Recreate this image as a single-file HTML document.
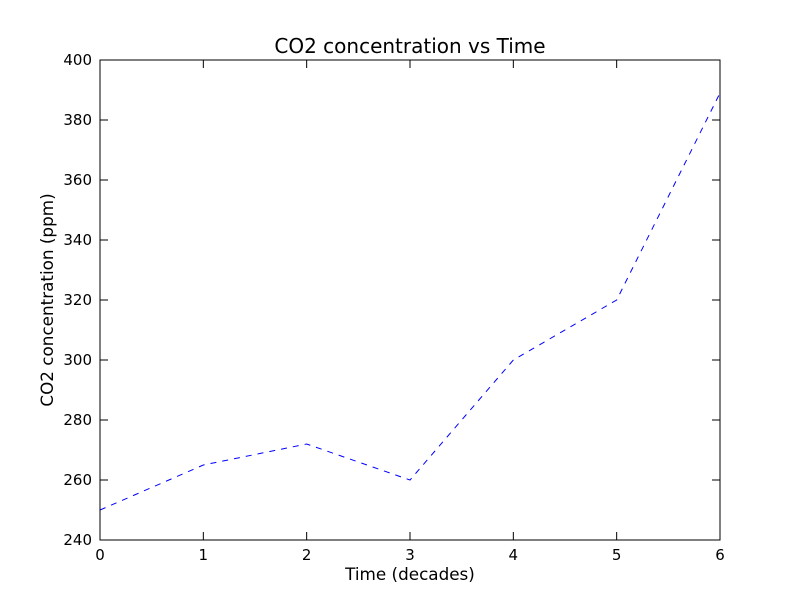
<!DOCTYPE html>
<html>
<head>
<meta charset="utf-8">
<style>
  html,body{margin:0;padding:0;background:#fff;}
  svg{display:block;font-family:"DejaVu Sans","Liberation Sans",sans-serif;}
</style>
</head>
<body>
<svg id="chart" width="800" height="600" viewBox="0 0 800 600">
  <rect x="0" y="0" width="800" height="600" fill="#fff"/>
  <text x="410" y="53" text-anchor="middle" font-size="20">CO2 concentration vs Time</text>
  <text x="410" y="580" text-anchor="middle" font-size="16.8">Time (decades)</text>
  <text x="53" y="300" text-anchor="middle" font-size="16.8" transform="rotate(-90 53 300)">CO2 concentration (ppm)</text>
  <g id="ticks"></g>
  <path id="series" fill="none" stroke="#0000ff" stroke-width="1" stroke-dasharray="6,6"/>
  <rect x="100" y="60" width="620" height="480" fill="none" stroke="#000" stroke-width="1"/>
</svg>
<script>
const categories = [0, 1, 2, 3, 4, 5, 6];
const co2Values = [250, 265, 272, 260, 300, 320, 389];
const xTickLabels = ["0", "1", "2", "3", "4", "5", "6"];
const yTickValues = [240, 260, 280, 300, 320, 340, 360, 380, 400];

const L = 100, R = 720, T = 60, B = 540;
const xMin = 0, xMax = 6, yMin = 240, yMax = 400;
function xScale(v){ return L + (v - xMin) / (xMax - xMin) * (R - L); }
function yScale(v){ return B - (v - yMin) / (yMax - yMin) * (B - T); }

const NS = "http://www.w3.org/2000/svg";
const g = document.getElementById('ticks');
function line(x1,y1,x2,y2,name){
  const l = document.createElementNS(NS,'line');
  l.setAttribute('x1',x1); l.setAttribute('y1',y1);
  l.setAttribute('x2',x2); l.setAttribute('y2',y2);
  l.setAttribute('stroke','#000'); l.setAttribute('stroke-width','1');
  
  
  g.appendChild(l);
}
function text(x,y,s,anchor,name){
  const t = document.createElementNS(NS,'text');
  t.setAttribute('x',x); t.setAttribute('y',y);
  t.setAttribute('text-anchor',anchor); t.setAttribute('font-size','15');
  t.textContent = s;
  
  
  g.appendChild(t);
}
categories.forEach((c,i)=>{
  const x = xScale(c);
  line(x,B,x,B-8,'x-tick');
  line(x,T,x,T+8,'x-tick-top');
  text(x,B+20,xTickLabels[i],'middle','x-tick-label');
});
yTickValues.forEach(v=>{
  const y = yScale(v);
  line(L,y,L+8,y,'y-tick');
  line(R,y,R-8,y,'y-tick-right');
  text(L-8,y+5,String(v),'end','y-tick-label');
});
const d = categories.map((c,i)=>(i?'L':'M')+xScale(c)+','+yScale(co2Values[i])).join(' ');
document.getElementById('series').setAttribute('d', d);
</script>
</body>
</html>
